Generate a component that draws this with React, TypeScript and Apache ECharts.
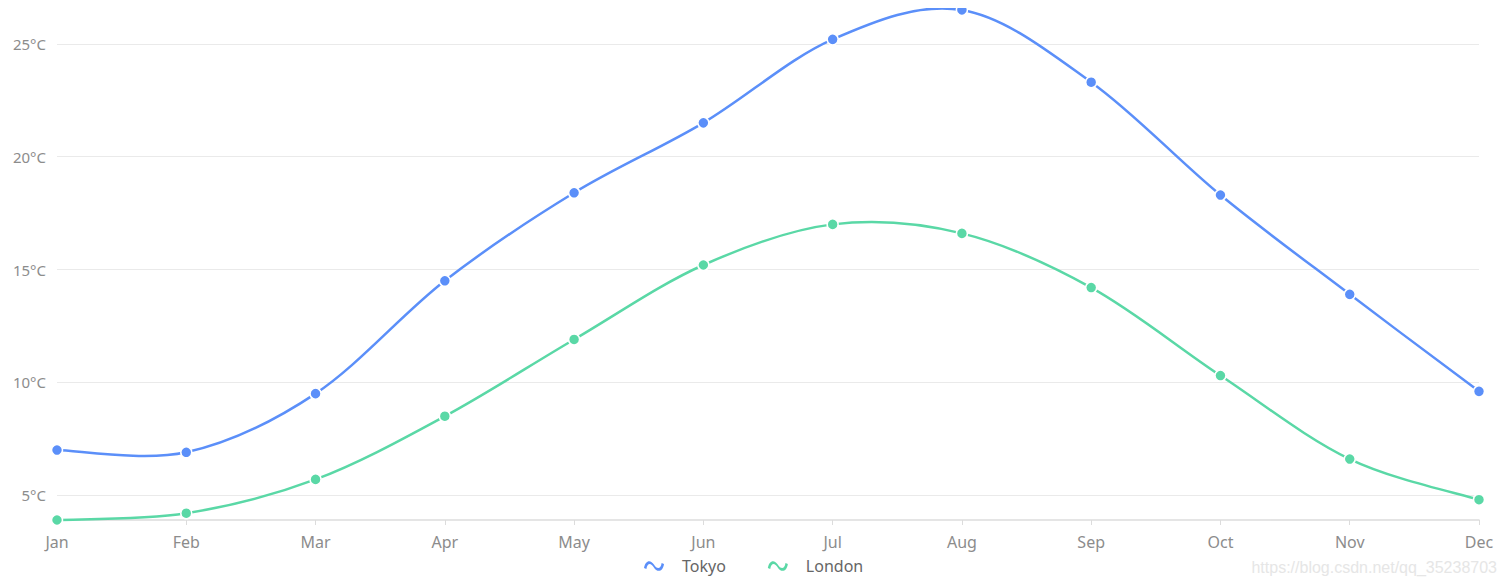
import React, { useEffect, useRef } from "react";
import * as echarts from "echarts";

const months = ["Jan", "Feb", "Mar", "Apr", "May", "Jun", "Jul", "Aug", "Sep", "Oct", "Nov", "Dec"];
const tokyo = [7.0, 6.9, 9.5, 14.5, 18.4, 21.5, 25.2, 26.5, 23.3, 18.3, 13.9, 9.6];
const london = [3.9, 4.2, 5.7, 8.5, 11.9, 15.2, 17.0, 16.6, 14.2, 10.3, 6.6, 4.8];
const topLegendNames = ["London", "Berlin"];

const BLUE = "#5B8FF9";
const GREEN = "#5AD8A6";
const FONT = "'Noto Sans', 'Open Sans', sans-serif";
const WAVE =
  "path://M0,8 C1.5,-0.5 7,-0.5 10,4.5 C13,9.5 17,9.5 17.8,3 L20.2,4 C19,12.5 13,12.5 10,7.5 C7,2.5 3.5,2.5 2.4,9 Z";

function catmullPath(pts: number[][]): string {
  let d = `M${pts[0][0]},${pts[0][1]}`;
  for (let i = 0; i < pts.length - 1; i++) {
    const p0 = pts[i - 1] || pts[i];
    const p1 = pts[i];
    const p2 = pts[i + 1];
    const p3 = pts[i + 2] || p2;
    const c1x = p1[0] + (p2[0] - p0[0]) / 6;
    const c1y = p1[1] + (p2[1] - p0[1]) / 6;
    const c2x = p2[0] - (p3[0] - p1[0]) / 6;
    const c2y = p2[1] - (p3[1] - p1[1]) / 6;
    d += ` C${c1x},${c1y} ${c2x},${c2y} ${p2[0]},${p2[1]}`;
  }
  return d;
}

function curveSeries(name: string, values: number[], color: string) {
  return {
    name,
    type: "custom",
    z: 1,
    silent: true,
    data: [[0, values[0]]],
    encode: { x: 0, y: 1 },
    renderItem: (params: any, api: any) => {
      if (params.dataIndex !== 0) return null;
      const pts = values.map((v, i) => api.coord([i, v]));
      return {
        type: "path",
        shape: { pathData: catmullPath(pts) },
        style: { fill: "none", stroke: color, lineWidth: 2.5 },
      };
    },
  };
}

function pointSeries(name: string, values: number[], color: string) {
  return {
    name,
    type: "line",
    z: 3,
    data: values,
    symbol: "circle",
    symbolSize: 11,
    color,
    lineStyle: { width: 0, opacity: 0 },
    itemStyle: { color, borderColor: "#fff", borderWidth: 1.5 },
  };
}

export default function App() {
  const ref = useRef<HTMLDivElement>(null);
  useEffect(() => {
    const chart = echarts.init(ref.current!, null, { renderer: "svg" });
    chart.setOption({
      animation: false,
      textStyle: { fontFamily: FONT },
      grid: { left: 57, right: 28, top: 10, bottom: 68, containLabel: false },
      legend: {
        bottom: 9,
        left: 639,
        itemWidth: 20,
        itemHeight: 12,
        itemGap: 42,
        icon: WAVE,
        data: ["Tokyo", "London"],
        itemStyle: { borderWidth: 0, opacity: 1 },
        lineStyle: { width: 0, opacity: 0 },
        textStyle: { fontSize: 16, color: "#666", padding: [0, 0, 0, 13], fontFamily: FONT },
      },
      xAxis: {
        type: "category",
        boundaryGap: false,
        data: months,
        axisLine: { lineStyle: { color: "#dcdcdc", width: 1.5 } },
        axisTick: { lineStyle: { color: "#dcdcdc" }, length: 5 },
        axisLabel: { color: "#8c8c8c", fontSize: 16, margin: 14, fontFamily: FONT },
      },
      yAxis: {
        type: "value",
        min: "dataMin",
        max: "dataMax",
        axisLine: { show: false },
        axisTick: { show: false },
        splitLine: { lineStyle: { color: "#eaeaea" }, showMinLine: false, showMaxLine: false },
        axisLabel: {
          color: "#8c8c8c",
          fontSize: 15,
          margin: 11,
          showMinLabel: false,
          showMaxLabel: false,
          formatter: "{value}°C",
          fontFamily: FONT,
        },
      },
      series: [
        curveSeries("Tokyo curve", tokyo, BLUE),
        curveSeries("London curve", london, GREEN),
        pointSeries("Tokyo", tokyo, BLUE),
        pointSeries("London", london, GREEN),
      ],
      graphic: [
        { type: "rect", shape: { x: 655, y: -9.5, width: 12, height: 12 }, style: { fill: BLUE } },
        {
          type: "text",
          x: 679,
          y: -2,
          style: { text: topLegendNames[0], fill: "#666", fontSize: 16, fontFamily: FONT, verticalAlign: "middle" },
        },
        { type: "rect", shape: { x: 771, y: -9.5, width: 12, height: 12 }, style: { fill: GREEN } },
        {
          type: "text",
          x: 794,
          y: -2,
          style: { text: topLegendNames[1], fill: "#666", fontSize: 16, fontFamily: FONT, verticalAlign: "middle" },
        },
        {
          type: "text",
          right: 10,
          top: 559,
          style: { text: "https://blog.csdn.net/qq_35238703", fill: "#e6e6e6", fontSize: 16, fontFamily: "Arial, 'Liberation Sans', sans-serif" },
        },
      ],
    });
    return () => chart.dispose();
  }, []);
  return <div ref={ref} style={{ width: 1507, height: 588, margin: -8 }} />;
}
